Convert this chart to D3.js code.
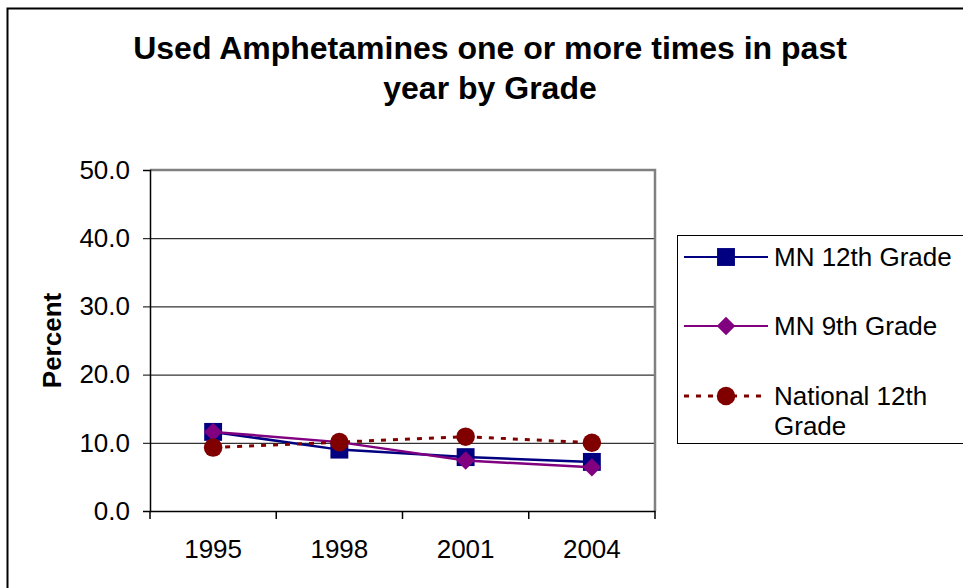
<!DOCTYPE html>
<html>
<head>
<meta charset="utf-8">
<script src="https://cdn.jsdelivr.net/npm/d3@7"></script>
<style>
  body { margin: 0; background: #fff; }
  text { font-family: "Liberation Sans", Arial, sans-serif; fill: #000; }
</style>
</head>
<body>
<div class="chart"></div>
<script>
////////// DATA //////////

const years = ["1995", "1998", "2001", "2004"];
const mn12 = [11.6, 9.0, 7.9, 7.2];
const mn9 = [11.6, 10.1, 7.4, 6.4];
const national12 = [9.3, 10.1, 10.9, 10.0];
const yTicks = [0, 10, 20, 30, 40, 50];

const seriesNames = ["MN 12th Grade", "MN 9th Grade", "National 12th Grade"];

// equal-sided diamond (rotated square), like the spreadsheet marker
const diamond = {
  draw(context, size) {
    const r = Math.sqrt(size / 2);
    context.moveTo(0, -r);
    context.lineTo(r, 0);
    context.lineTo(0, r);
    context.lineTo(-r, 0);
    context.closePath();
  }
};

const series = [
  { name: seriesNames[0], values: mn12, color: "#000080", symbol: d3.symbolSquare, size: 320, dash: null },
  { name: seriesNames[1], values: mn9, color: "#800080", symbol: diamond, size: 170, dash: null },
  { name: seriesNames[2], values: national12, color: "#800000", symbol: d3.symbolCircle, size: 270, dash: "5,7" }
];

////////// SETUP //////////

const W = 963, H = 588;
const plot = { left: 150, right: 655, top: 170, bottom: 511 };

const svg = d3.select(".chart").append("svg")
    .attr("width", W)
    .attr("height", H);

// outer chart border
svg.append("rect")
    .attr("x", 7.5).attr("y", 8.5)
    .attr("width", W).attr("height", H)
    .attr("fill", "none")
    .attr("stroke", "#000")
    .attr("stroke-width", 2);

// title
svg.append("text")
    .attr("x", 490).attr("y", 59)
    .attr("text-anchor", "middle")
    .style("font-size", "32px").style("font-weight", "bold")
    .text("Used Amphetamines one or more times in past");
svg.append("text")
    .attr("x", 490).attr("y", 99)
    .attr("text-anchor", "middle")
    .style("font-size", "32px").style("font-weight", "bold")
    .text("year by Grade");

// scales
let x = d3.scaleBand()
    .domain(years)
    .range([plot.left, plot.right]);

let y = d3.scaleLinear()
    .domain([0, 50])
    .range([plot.bottom, plot.top]);

// gridlines
svg.append("g")
  .selectAll("line")
    .data(yTicks.filter(d => d > 0 && d < 50))
    .enter().append("line")
    .attr("x1", plot.left).attr("x2", plot.right)
    .attr("y1", d => y(d) + 0.5).attr("y2", d => y(d) + 0.5)
    .attr("stroke", "#000").attr("stroke-width", 1);

// top and right gray frame
svg.append("path")
    .attr("d", `M${plot.left},${plot.top} H${plot.right} V${plot.bottom}`)
    .attr("fill", "none")
    .attr("stroke", "#808080")
    .attr("stroke-width", 2.5);

// y axis
let yAxis = svg.append("g")
    .attr("transform", `translate(${plot.left},0)`)
    .call(d3.axisLeft(y).tickValues(yTicks).tickFormat(d3.format(".1f")).tickSize(7).tickPadding(13));
yAxis.select(".domain").attr("stroke-width", 1.5);
yAxis.selectAll("text")
    .style("font-size", "26px")
    .attr("font-family", null);

// x axis
let xAxis = svg.append("g")
    .attr("transform", `translate(0,${plot.bottom})`)
    .call(d3.axisBottom(x).tickSize(0).tickPadding(29));
xAxis.select(".domain").attr("stroke-width", 1.5);
xAxis.selectAll("text")
    .style("font-size", "26px")
    .attr("font-family", null);

// category boundary ticks
xAxis.selectAll(".bound")
    .data(years.concat(["end"]))
    .enter().append("line")
    .attr("class", "bound")
    .attr("x1", (d, i) => plot.left + i * x.step())
    .attr("x2", (d, i) => plot.left + i * x.step())
    .attr("y1", 0).attr("y2", 8)
    .attr("stroke", "#000").attr("stroke-width", 1.5);

// y axis label
svg.append("text")
    .attr("transform", `translate(61,${(plot.top + plot.bottom) / 2}) rotate(-90)`)
    .attr("text-anchor", "middle")
    .style("font-size", "26px").style("font-weight", "bold")
    .text("Percent");

////////// LINES //////////

let line = d3.line()
    .x((d, i) => x(years[i]) + x.bandwidth() / 2)
    .y(d => y(d));

series.forEach(s => {
  let g = svg.append("g");
  g.append("path")
      .datum(s.values)
      .attr("d", line)
      .attr("fill", "none")
      .attr("stroke", s.color)
      .attr("stroke-width", s.dash ? 3 : 2.5)
      .attr("stroke-dasharray", s.dash);
  g.selectAll("path.pt")
      .data(s.values)
      .enter().append("path")
      .attr("class", "pt")
      .attr("transform", (d, i) => `translate(${x(years[i]) + x.bandwidth() / 2},${y(d)})`)
      .attr("d", d3.symbol().type(s.symbol).size(s.size))
      .attr("fill", s.color);
});

////////// LEGEND //////////

let legend = svg.append("g");
legend.append("rect")
    .attr("x", 677.5).attr("y", 235.5)
    .attr("width", 300).attr("height", 208)
    .attr("fill", "#fff")
    .attr("stroke", "#000").attr("stroke-width", 1);

const legendY = [257, 326, 396];
series.forEach((s, i) => {
  let ly = legendY[i];
  legend.append("line")
      .attr("x1", 684).attr("x2", 768)
      .attr("y1", ly).attr("y2", ly)
      .attr("stroke", s.color)
      .attr("stroke-width", s.dash ? 3 : 2)
      .attr("stroke-dasharray", s.dash);
  legend.append("path")
      .attr("transform", `translate(726,${ly})`)
      .attr("d", d3.symbol().type(s.symbol).size(s.size))
      .attr("fill", s.color);
});

legend.append("text").attr("x", 774).attr("y", 266).style("font-size", "26px").text("MN 12th Grade");
legend.append("text").attr("x", 774).attr("y", 335).style("font-size", "26px").text("MN 9th Grade");
legend.append("text").attr("x", 774).attr("y", 405).style("font-size", "26px").text("National 12th");
legend.append("text").attr("x", 774).attr("y", 435).style("font-size", "26px").text("Grade");
</script>
</body>
</html>
